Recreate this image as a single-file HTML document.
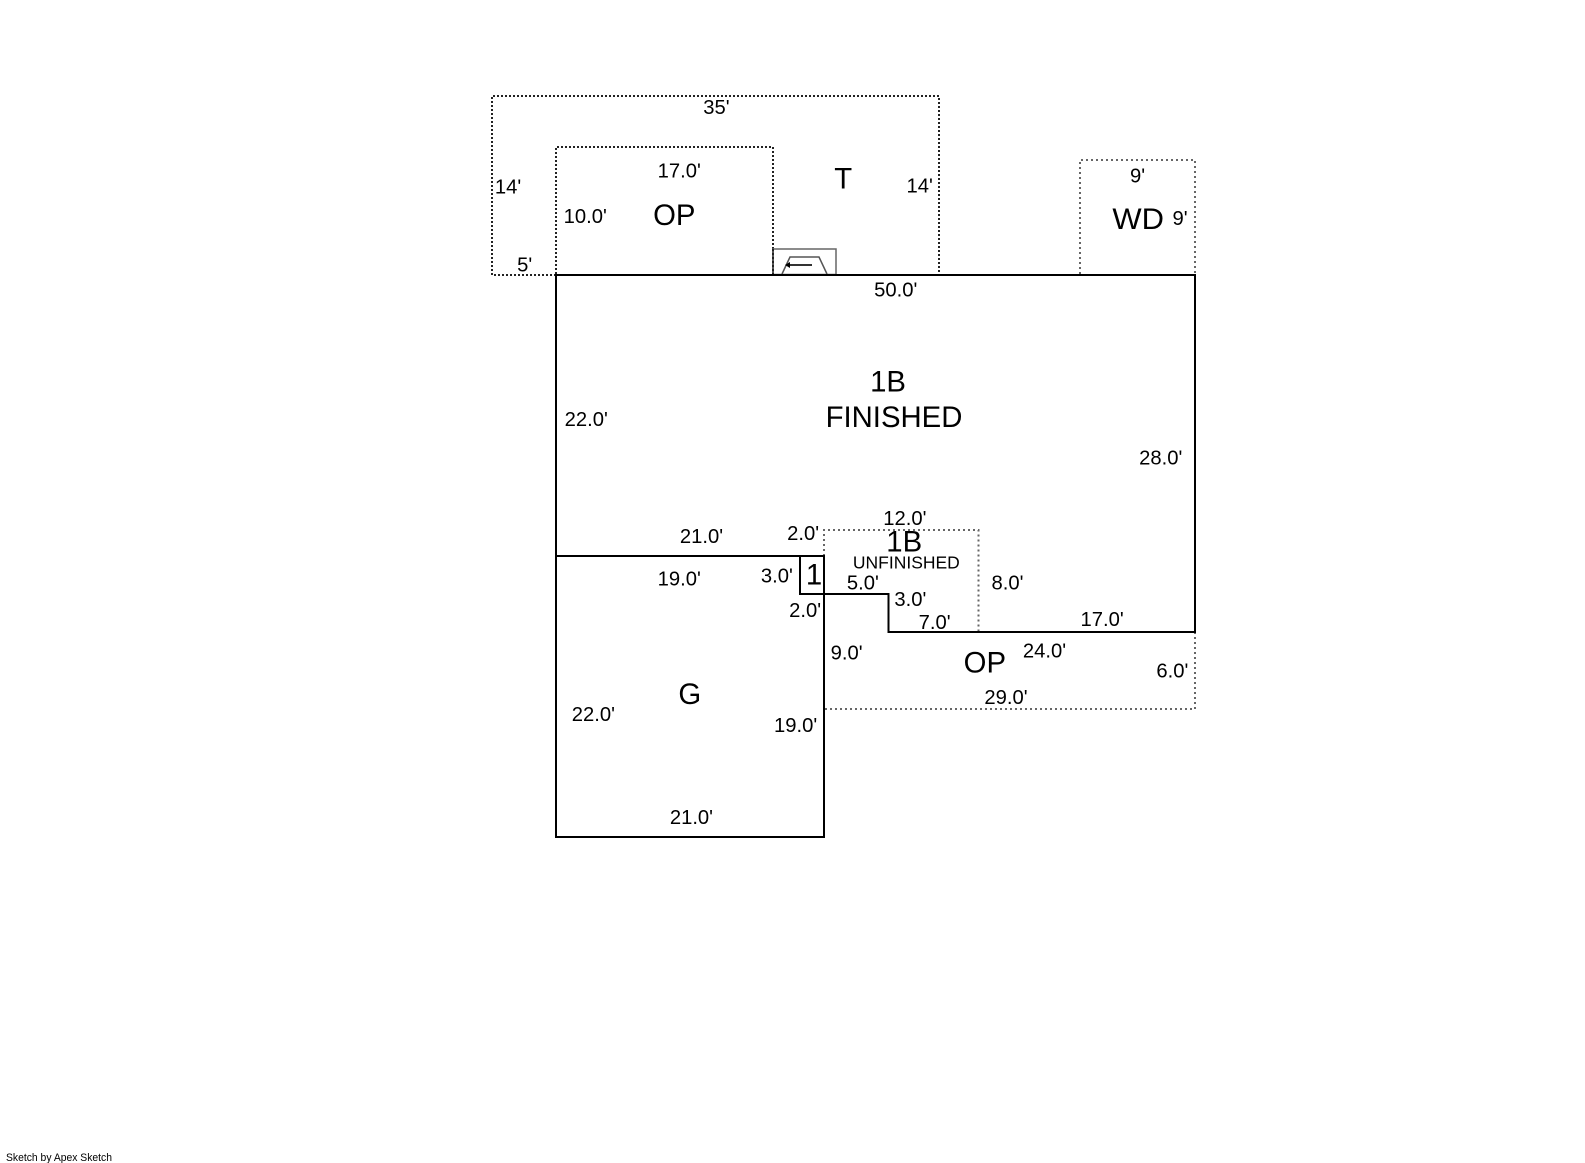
<!DOCTYPE html>
<html>
<head>
<meta charset="utf-8">
<style>
html,body{margin:0;padding:0;background:#fff;width:1585px;height:1163px;overflow:hidden}
svg{display:block}
text{font-family:"Liberation Sans",sans-serif;fill:#000}
.d{font-size:20px}
.l{font-size:29px}
.dot{fill:none;stroke:#222;stroke-width:2;stroke-dasharray:2 2}
.dotg{fill:none;stroke:#666;stroke-width:2;stroke-dasharray:2 3}
.s{fill:none;stroke:#000;stroke-width:2}
</style>
</head>
<body>
<svg width="1585" height="1163" viewBox="0 0 1585 1163" xmlns="http://www.w3.org/2000/svg">
<!-- dotted areas -->
<path class="dot" d="M556 275H492V96H939V274"/>
<path class="dot" d="M556 274V147H773V274"/>
<path class="dotg" d="M1080 274V160H1195V274"/>
<path class="dotg" d="M824 556V530H978.5V631"/>
<path class="dotg" d="M1195 632V709H824"/>
<!-- stair symbol -->
<rect x="773" y="249" width="63" height="25.5" fill="none" stroke="#666" stroke-width="1.5"/>
<path d="M782 274L790 257H819L827 274" fill="none" stroke="#555" stroke-width="1.5"/>
<path d="M787 265H812" stroke="#333" stroke-width="2" fill="none"/>
<path d="M785 265L790 262V268Z" fill="#000"/>
<path d="M773 249V274" class="dot"/>
<!-- solid -->
<path class="s" d="M556 275H1195V632H888.5V594H800V556H556Z"/>
<path class="s" d="M556 556V837H824V556H800"/>
<!-- text, scaled to the drawing -->
<g transform="translate(-0.8 -0.4) scale(1.0115 1.0105)">
<text class="d" x="696" y="113">35'</text>
<text class="d" x="490" y="192">14'</text>
<text class="d" x="897" y="191">14'</text>
<text class="d" x="512" y="269">5'</text>
<text class="d" x="651" y="176">17.0'</text>
<text class="d" x="558" y="221">10.0'</text>
<text class="d" x="1118" y="181">9'</text>
<text class="d" x="1160" y="223">9'</text>
<text class="d" x="865" y="294">50.0'</text>
<text class="d" x="559" y="422">22.0'</text>
<text class="d" x="1127" y="460">28.0'</text>
<text class="d" x="874" y="520">12.0'</text>
<text class="d" x="673" y="538">21.0'</text>
<text class="d" x="779" y="535">2.0'</text>
<text class="d" x="651" y="580">19.0'</text>
<text class="d" x="753" y="577">3.0'</text>
<text class="d" x="838" y="584">5.0'</text>
<text class="d" x="981" y="584">8.0'</text>
<text class="d" x="885" y="600">3.0'</text>
<text class="d" x="781" y="611">2.0'</text>
<text class="d" x="909" y="623">7.0'</text>
<text class="d" x="1069" y="620">17.0'</text>
<text class="d" x="1012" y="651">24.0'</text>
<text class="d" x="822" y="653">9.0'</text>
<text class="d" x="1144" y="671">6.0'</text>
<text class="d" x="974" y="697">29.0'</text>
<text class="d" x="566" y="714">22.0'</text>
<text class="d" x="766" y="725">19.0'</text>
<text class="d" x="663" y="816">21.0'</text>
<!-- area labels -->
<text class="l" x="825.5" y="187">T</text>
<text class="l" x="646.5" y="223">OP</text>
<text class="l" x="1100.5" y="227" textLength="51" lengthAdjust="spacingAndGlyphs">WD</text>
<text class="l" x="861" y="388">1B</text>
<text class="l" x="817" y="423">FINISHED</text>
<text class="l" x="877" y="546">1B</text>
<text x="844" y="563" font-size="17.3">UNFINISHED</text>
<text class="l" x="797.5" y="579">1</text>
<text class="l" x="953.5" y="666">OP</text>
<text class="l" x="671.5" y="697">G</text>
</g>
<text x="6" y="1161" font-size="11" textLength="106" lengthAdjust="spacingAndGlyphs">Sketch by Apex Sketch</text>
</svg>
</body>
</html>
